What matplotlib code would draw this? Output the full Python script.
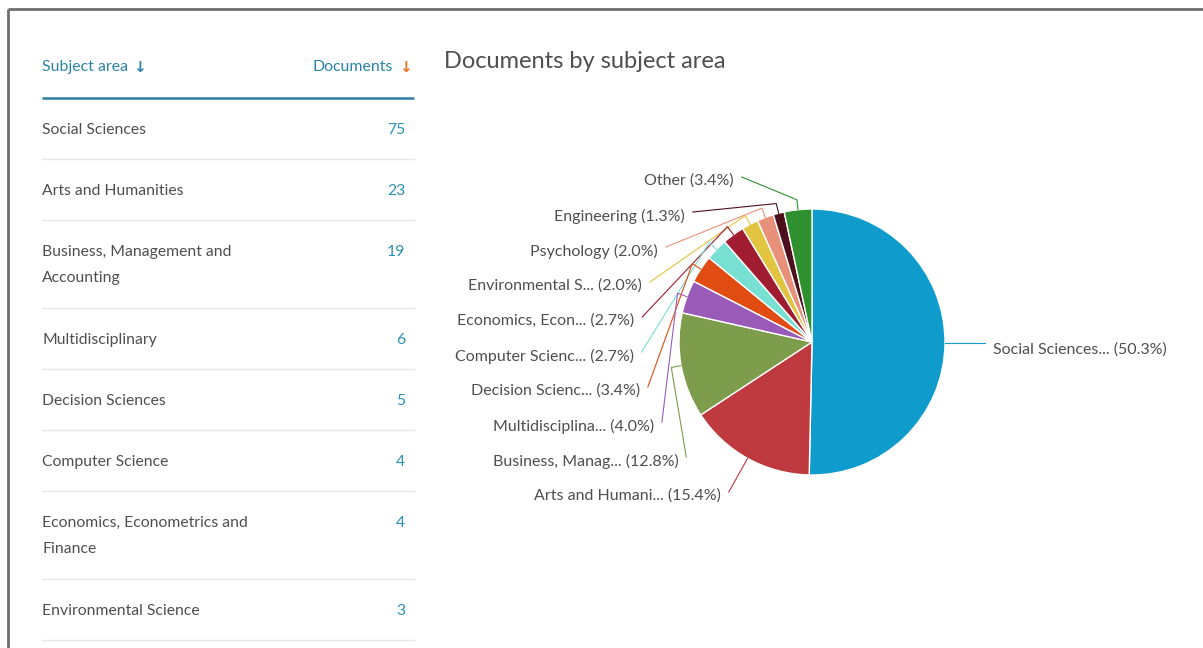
import numpy as np
import matplotlib.pyplot as plt

# Table on the left
table_subjects = ["Social Sciences", "Arts and Humanities", "Business, Management and\nAccounting",
                  "Multidisciplinary", "Decision Sciences", "Computer Science",
                  "Economics, Econometrics and\nFinance", "Environmental Science"]
table_docs = [75, 23, 19, 6, 5, 4, 4, 3]

# Pie slices (clockwise from 12 o'clock)
pie_labels = ["Social Sciences...", "Arts and Humani...", "Business, Manag...", "Multidisciplina...",
              "Decision Scienc...", "Computer Scienc...", "Economics, Econ...", "Environmental S...",
              "Psychology", "Engineering", "Other"]
pie_counts = [75, 23, 19, 6, 5, 4, 4, 3, 3, 2, 5]
pie_colors = ["#0f9ccc", "#bf3a3f", "#7d9c4c", "#9a5bb8", "#e04c12", "#78e0d2",
              "#a01c30", "#e2c440", "#e8917a", "#4e0f1c", "#2f9030"]

W, H = 1203, 648
FONT = ["Lato", "DejaVu Sans"]
TXT = "#4f4f4f"
TEAL = "#2b83aa"


def Y(y):
    return H - y


fig = plt.figure(figsize=(W / 100, H / 100), dpi=100)
ax = fig.add_axes([0, 0, 1, 1])

# screenshot frame
ax.plot([8, W], [Y(8.5), Y(8.5)], color="#6e6e6e", lw=2, solid_capstyle="butt")
ax.plot([8, 8], [Y(8.5), 0], color="#6e6e6e", lw=2, solid_capstyle="butt")

# table header
ax.text(42, Y(67), "Subject area", color=TEAL, fontsize=11.4, family=FONT, ha="left", va="center")
ax.text(133, Y(67), "\u2193", color=TEAL, fontsize=11, family=["DejaVu Sans"], ha="left", va="center",
        fontweight="bold")
ax.text(393, Y(67), "Documents", color=TEAL, fontsize=11.4, family=FONT, ha="right", va="center")
ax.text(412, Y(67), "\u2193", color="#e9731e", fontsize=11, family=["DejaVu Sans"], ha="right", va="center",
        fontweight="bold")
ax.plot([42, 414], [Y(98), Y(98)], color="#2e7fa6", lw=1.8, solid_capstyle="butt")

y = 98
for name, n in zip(table_subjects, table_docs):
    lines = name.count("\n") + 1
    h = 61 + 27 * (lines - 1)
    ty = y + 32
    for i, part in enumerate(name.split("\n")):
        ax.text(42, Y(ty + 26 * i), part, color=TXT, fontsize=11.3, family=FONT, ha="left", va="center")
    ax.text(405, Y(ty), str(n), color="#2e8fb5", fontsize=11.3, family=FONT, ha="right", va="center")
    y += h
    if y < H:
        ax.plot([42, 414], [Y(y), Y(y)], color="#e6e6e6", lw=1)

# title
ax.text(444, Y(62), "Documents by subject area", color=TXT, fontsize=17, family=FONT,
        ha="left", va="center")

# pie
cx, cy, r = 812, 342, 133
wedges, _ = ax.pie(pie_counts, colors=pie_colors, startangle=90, counterclock=False,
                   center=(cx, Y(cy)), radius=r,
                   wedgeprops=dict(edgecolor="white", linewidth=1))
ax.set_xlim(0, W)
ax.set_ylim(0, H)
ax.set_aspect("auto")
ax.axis("off")

total = sum(pie_counts)
pcts = [100 * c / total for c in pie_counts]
R = 179
LBL = 11.5
left_idx = list(range(len(pie_counts) - 1, 0, -1))  # Other ... Arts, top to bottom
for k, i in enumerate(left_idx):
    w = wedges[i]
    a = np.deg2rad((w.theta1 + w.theta2) / 2)
    ly = 181 + 35 * k
    dy = ly - cy
    xr = cx - np.sqrt(R ** 2 - dy ** 2)
    p0 = (cx + r * np.cos(a), Y(cy) + r * np.sin(a))
    p1 = (cx + (r + 10) * np.cos(a), Y(cy) + (r + 10) * np.sin(a))
    p2 = (xr + 8, Y(ly - 4))
    ax.plot([p0[0], p1[0], p2[0]], [p0[1], p1[1], p2[1]], color=pie_colors[i], lw=0.8)
    ax.text(xr, Y(ly), f"{pie_labels[i]} ({pcts[i]:.1f}%)", color=TXT, fontsize=LBL,
            family=FONT, ha="right", va="center")

# right-hand label (largest slice)
w = wedges[0]
a = np.deg2rad((w.theta1 + w.theta2) / 2)
p0 = (cx + r * np.cos(a), Y(cy) + r * np.sin(a))
p2 = (cx + R - 6, p0[1])
ax.plot([p0[0], p2[0]], [p0[1], p2[1]], color=pie_colors[0], lw=0.8)
ax.text(cx + R + 2, p0[1] - 6, f"{pie_labels[0]} ({pcts[0]:.1f}%)", color=TXT, fontsize=LBL,
        family=FONT, ha="left", va="center")

fig.savefig("out.png", dpi=100, facecolor="white")
